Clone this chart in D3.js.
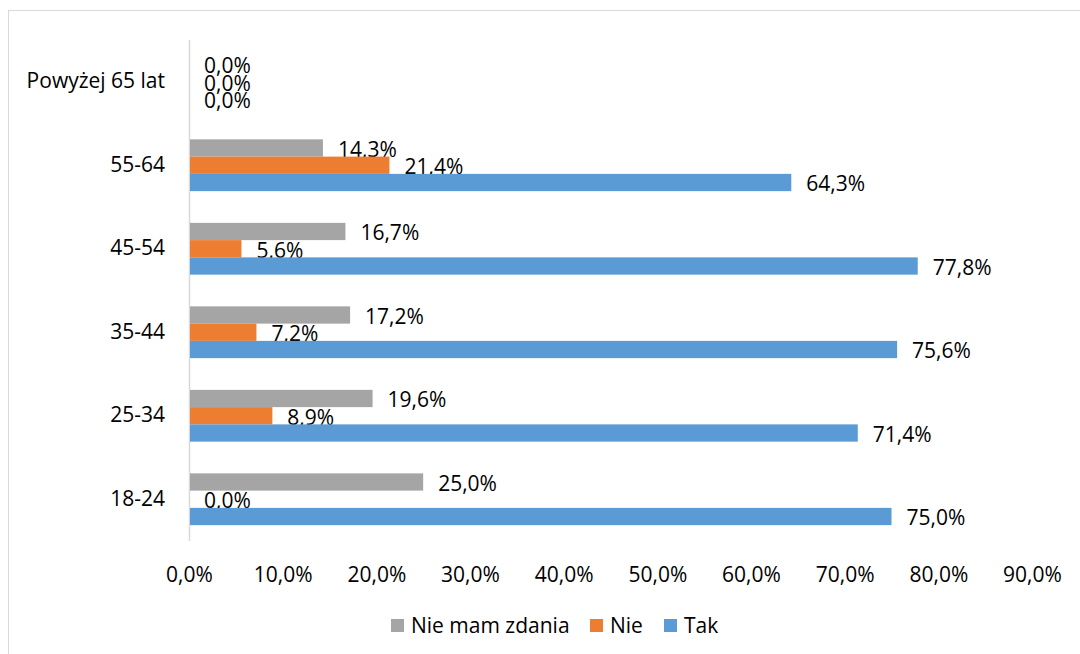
<!DOCTYPE html>
<html>
<head>
<meta charset="utf-8">
<script src="https://cdn.jsdelivr.net/npm/d3@7"></script>
<style>
  html, body { margin: 0; padding: 0; background: #fff; }
  svg { display: block; }
  text { font-family: "Open Sans", Lato, sans-serif; fill: #000; }
</style>
</head>
<body>
<svg id="chart" width="1080" height="654"></svg>
<script>
// Age groups, listed bottom to top
const categories = ["18-24", "25-34", "35-44", "45-54", "55-64", "Powyżej 65 lat"];
const seriesNames = ["Nie mam zdania", "Nie", "Tak"];
const nieMamZdania = [25.0, 19.6, 17.2, 16.7, 14.3, 0.0];
const nie = [0.0, 8.9, 7.2, 5.6, 21.4, 0.0];
const tak = [75.0, 71.4, 75.6, 77.8, 64.3, 0.0];
const xTicks = [0, 10, 20, 30, 40, 50, 60, 70, 80, 90];
const colors = ["#A5A5A5", "#ED7D31", "#5B9BD5"];

const seriesValues = [nieMamZdania, nie, tak];
const fmt = v => v.toFixed(1).replace(".", ",") + "%";
const fontSize = "21px";

const svg = d3.select("#chart");

// outer chart frame
svg.append("rect")
  .attr("x", 8.5).attr("y", 10.5)
  .attr("width", 1100).attr("height", 700)
  .attr("fill", "none").attr("stroke", "#d9d9d9").attr("stroke-width", 1);

const plotLeft = 189, plotRight = 1032, plotTop = 40, plotBottom = 541;

const x = d3.scaleLinear().domain([0, 90]).range([plotLeft, plotRight]);
const y = d3.scaleBand().domain(categories.slice().reverse()).range([plotTop, plotBottom]).paddingInner(0.38).paddingOuter(0.19);
const sub = d3.scaleBand().domain(seriesNames).range([0, y.bandwidth()]);

// category axis line
svg.append("line")
  .attr("x1", plotLeft + 0.5).attr("x2", plotLeft + 0.5)
  .attr("y1", plotTop).attr("y2", plotBottom)
  .attr("stroke", "#d9d9d9").attr("stroke-width", 1.5);

// category labels
const yAxis = d3.axisLeft(y).tickSize(0).tickPadding(24);
const yg = svg.append("g").attr("transform", `translate(${plotLeft},0)`).call(yAxis);
yg.select(".domain").remove();
yg.attr("font-family", null).attr("font-size", null);
yg.selectAll("text").style("font-size", fontSize).attr("fill", "#000");

// value axis labels
const xAxis = d3.axisBottom(x).tickValues(xTicks).tickFormat(fmt).tickSize(0).tickPadding(0);
const xg = svg.append("g").attr("transform", `translate(0,575)`).call(xAxis);
xg.select(".domain").remove();
xg.attr("font-family", null).attr("font-size", null);
xg.selectAll("text").style("font-size", fontSize).attr("dy", "0.35em").attr("y", 0).attr("fill", "#000");

// bars and data labels
const groups = svg.append("g").selectAll("g")
  .data(categories.map((c, i) => ({ c, i })))
  .join("g")
  .attr("transform", d => `translate(0,${y(d.c)})`);

seriesNames.forEach((name, s) => {
  groups.append("rect")
    .attr("x", plotLeft + 1)
    .attr("y", sub(name))
    .attr("width", d => Math.max(0, x(seriesValues[s][d.i]) - plotLeft - 1))
    .attr("height", sub.bandwidth())
    .attr("fill", colors[s]);
  groups.append("text")
    .attr("x", d => x(seriesValues[s][d.i]) + 15)
    .attr("y", sub(name) + sub.bandwidth() / 2 + 1.5)
    .attr("dy", "0.35em")
    .style("font-size", fontSize)
    .text(d => fmt(seriesValues[s][d.i]));
});

// legend
const legendItems = [
  { name: seriesNames[0], x: 391 },
  { name: seriesNames[1], x: 590 },
  { name: seriesNames[2], x: 664 }
];
const lg = svg.append("g");
legendItems.forEach((it, i) => {
  lg.append("rect").attr("x", it.x).attr("y", 619).attr("width", 13).attr("height", 13).attr("fill", colors[i]);
  lg.append("text").attr("x", it.x + 20).attr("y", 625.5).attr("dy", "0.35em")
    .style("font-size", fontSize).text(it.name);
});
</script>
</body>
</html>
